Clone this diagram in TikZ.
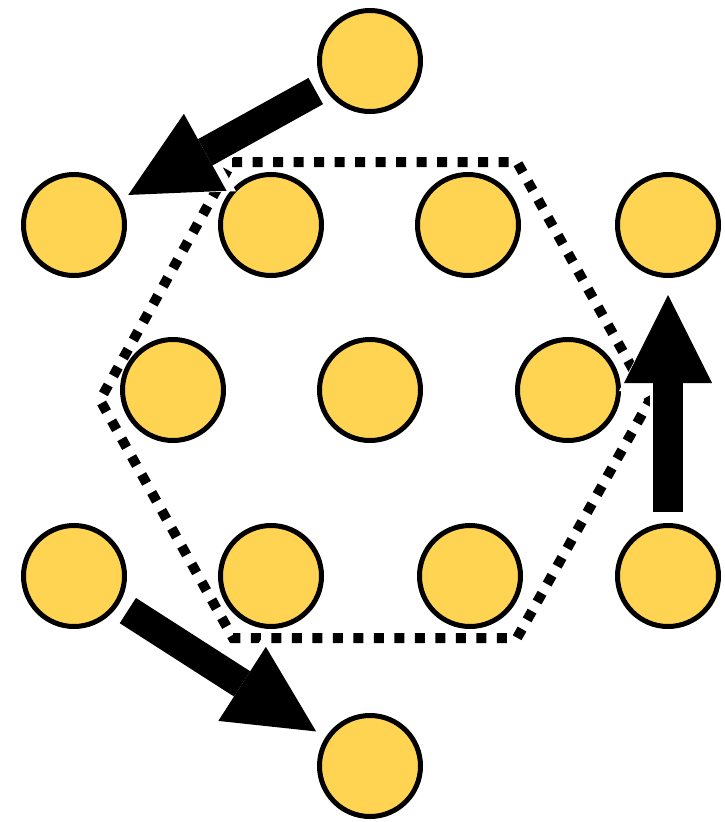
\documentclass[tikz,border=0pt]{standalone}
\usetikzlibrary{arrows.meta}
\definecolor{atomfill}{HTML}{FFD452}
\tikzset{
  atom/.style={circle, draw=black, fill=atomfill, line width=5pt,
               minimum size=101pt, inner sep=0pt},
  cell/.style={draw=black, line width=10pt, dash pattern=on 10pt off 10.5pt},
  hop/.style={line width=30pt, color=black,
              -{Triangle[length=88pt, width=88pt, line width=0pt]},
              preaction={draw=white, line width=36pt,
                         -{Triangle[length=96pt, width=98pt, line width=0pt]}}},
}
\begin{document}
\begin{tikzpicture}[x=1pt, y=-1pt]
  \useasboundingbox (0,0) rectangle (725,822);

  % hexagonal cell outline
  \draw[cell] (232,162) -- (517,162) -- (650,400) -- (517,638)
              -- (233,638) -- (100,400) -- cycle;

  % lattice sites
  \node[atom] (t)   at (370,61)  {};
  \node[atom] (a1)  at (74,225)  {};
  \node[atom] (a2)  at (271,225) {};
  \node[atom] (a3)  at (468,225) {};
  \node[atom] (a4)  at (668,225) {};
  \node[atom] (b1)  at (173,390) {};
  \node[atom] (b2)  at (370,390) {};
  \node[atom] (b3)  at (568,390) {};
  \node[atom] (c1)  at (74,576)  {};
  \node[atom] (c2)  at (271,576) {};
  \node[atom] (c3)  at (470,576) {};
  \node[atom] (c4)  at (668,576) {};
  \node[atom] (bt)  at (370,766) {};

  % hops
  \draw[hop, shorten <=9pt, shorten >=9pt] (t) -- (a1);
  \draw[hop, shorten <=11pt, shorten >=17pt] (c4) -- (a4);
  \draw[hop, shorten <=11pt, shorten >=11pt] (c1) -- (bt);
\end{tikzpicture}
\end{document}
